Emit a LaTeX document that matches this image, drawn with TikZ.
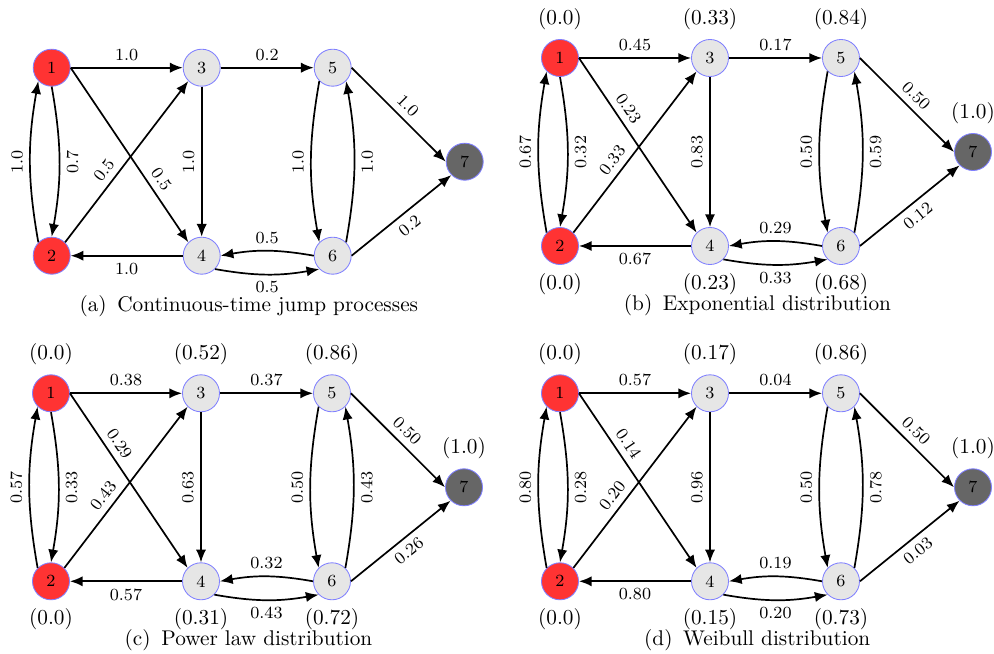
\documentclass[tikz,border=0pt]{standalone}
\usetikzlibrary{arrows.meta}
\definecolor{nodered}{HTML}{FF3333}
\definecolor{nodegray}{HTML}{E6E6E6}
\definecolor{nodedark}{HTML}{666666}
\definecolor{nodeedge}{HTML}{8080FF}
\tikzset{
  st/.style={circle, draw=nodeedge, line width=0.4pt, minimum size=17.4pt, inner sep=0pt, font=\footnotesize},
  srcnode/.style={st, fill=nodered},
  midnode/.style={st, fill=nodegray},
  dstnode/.style={st, fill=nodedark},
  arr/.style={-{Latex[length=6pt,width=4.8pt]}, line width=0.8pt},
  elab/.style={font=\footnotesize, inner sep=3pt},
  vlab/.style={font=\normalsize, inner sep=0pt},
  captxt/.style={font=\normalsize, inner sep=0pt},
}
% nodes of one panel, #1 = prefix
\newcommand{\drawnodes}[1]{%
  \node[srcnode] (#11) at (0,0) {1};
  \node[midnode] (#13) at (150,0) {3};
  \node[midnode] (#15) at (281,0) {5};
  \node[dstnode] (#17) at (413,94) {7};
  \node[srcnode] (#12) at (0,188) {2};
  \node[midnode] (#14) at (150,188) {4};
  \node[midnode] (#16) at (281,188) {6};
}
% prefix, l13, l35, l57, l67, l12, l21, l23, l34
\newcommand{\edgesA}[9]{%
  \draw[arr] (#11.east) -- node[midway, above, elab] {#2} (#13.west);
  \draw[arr] (#13.east) -- node[midway, above, elab] {#3} (#15.west);
  \draw[arr] (#15.east) -- node[midway, sloped, above, elab] {#4} (#17.west);
  \draw[arr] (#16.east) -- node[midway, sloped, below, elab] {#5} (#17.south west);
  \draw[arr] (#11.south) to[bend left=10] node[midway, rotate=90, anchor=north, elab] {#6} (#12.north);
  \draw[arr] (#12.north west) to[bend left=10] node[midway, rotate=90, anchor=south, elab] {#7} (#11.south west);
  \draw[arr] (#12.north east) -- node[pos=0.4, sloped, above, elab] {#8} (#13.south west);
  \draw[arr] (#13.south) -- node[midway, rotate=90, anchor=south, elab] {#9} (#14.north);
}
% prefix, l42, l56, l65, l64, l46, l14, pos14
\newcommand{\edgesB}[8]{%
  \draw[arr] (#14.west) -- node[midway, below, elab] {#2} (#12.east);
  \draw[arr] (#15.south west) to[bend right=10] node[midway, rotate=90, anchor=south, elab] {#3} (#16.north west);
  \draw[arr] (#16.north east) to[bend right=10] node[midway, rotate=90, anchor=north, elab] {#4} (#15.south east);
  \draw[arr] (#16.west) to[bend right=10] node[midway, above, elab] {#5} (#14.east);
  \draw[arr] (#14.south east) to[bend right=10] node[midway, below, elab] {#6} (#16.south west);
  \draw[arr] (#11.east) -- node[pos=#8, sloped, above, elab] {#7} (#14.north west);
}
% prefix, v1, v3, v5, v7, v2, v4, v6
\newcommand{\drawvalues}[8]{%
  \node[vlab] (#1v1) at (0,-39) {#2};
  \node[vlab] (#1v3) at (150,-39) {#3};
  \node[vlab] (#1v5) at (281,-39) {#4};
  \node[vlab] (#1v7) at (413,55) {#5};
  \node[vlab] (#1v2) at (0,226) {#6};
  \node[vlab] (#1v4) at (150,226) {#7};
  \node[vlab] (#1v6) at (281,226) {#8};
}
\begin{document}
\begin{tikzpicture}[x=0.47pt, y=-0.47pt]
\useasboundingbox (0,0) rectangle (994,654);
% (a)
\begin{scope}[shift={(51.7,67.7)}]
  \drawnodes{a}
  \edgesA{a}{1.0}{0.2}{1.0}{0.2}{0.7}{1.0}{0.5}{1.0}
  \edgesB{a}{1.0}{1.0}{1.0}{0.5}{0.5}{0.5}{0.68}
  \node[captxt] (acap) at (197.1,238.3) {(a)\enspace Continuous-time jump processes};
\end{scope}
% (b)
\begin{scope}[shift={(560,58)}]
  \drawnodes{b}
  \edgesA{b}{0.45}{0.17}{0.50}{0.12}{0.32}{0.67}{0.33}{0.83}
  \edgesB{b}{0.67}{0.50}{0.59}{0.29}{0.33}{0.23}{0.33}
  \drawvalues{b}{(0.0)}{(0.33)}{(0.84)}{(1.0)}{(0.0)}{(0.23)}{(0.68)}
  \node[captxt] (bcap) at (197.5,247) {(b)\enspace Exponential distribution};
\end{scope}
% (c)
\begin{scope}[shift={(51,393.3)}]
  \drawnodes{c}
  \edgesA{c}{0.38}{0.37}{0.50}{0.26}{0.33}{0.57}{0.43}{0.63}
  \edgesB{c}{0.57}{0.50}{0.43}{0.32}{0.43}{0.29}{0.33}
  \drawvalues{c}{(0.0)}{(0.52)}{(0.86)}{(1.0)}{(0.0)}{(0.31)}{(0.72)}
  \node[captxt] (ccap) at (197.5,246.7) {(c)\enspace Power law distribution};
\end{scope}
% (d)
\begin{scope}[shift={(560,393.3)}]
  \drawnodes{d}
  \edgesA{d}{0.57}{0.04}{0.50}{0.03}{0.28}{0.80}{0.20}{0.96}
  \edgesB{d}{0.80}{0.50}{0.78}{0.19}{0.20}{0.14}{0.33}
  \drawvalues{d}{(0.0)}{(0.17)}{(0.86)}{(1.0)}{(0.0)}{(0.15)}{(0.73)}
  \node[captxt] (dcap) at (197.2,246.7) {(d)\enspace Weibull distribution};
\end{scope}
\end{tikzpicture}
\end{document}
